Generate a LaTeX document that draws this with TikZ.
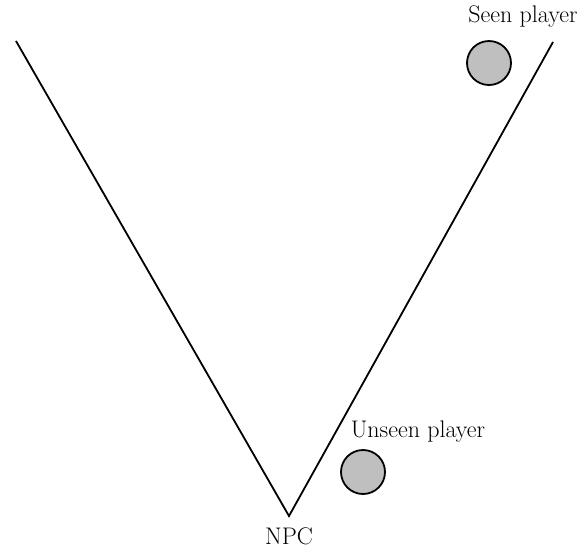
\documentclass[tikz,border=0pt]{standalone}
\usepackage{fontspec}
\usepackage{tikz}
\usetikzlibrary{positioning}

\begin{document}
\begin{tikzpicture}[x=1pt, y=-1pt]
        \tikzstyle{player} = [circle, minimum size=44pt, inner sep=0pt, draw=black, line width=1.8pt, fill=black!25]
        \tikzstyle{caption} = [font=\fontsize{24}{28}\selectfont]
        \tikzstyle{sight} = [line width=1.8pt, line join=miter]

        \useasboundingbox (0,0) rectangle (582,550);

        \coordinate (leftend) at (16,41);
        \coordinate (npc) at (289,516);
        \coordinate (rightend) at (553,42);

        \node (seen) [player] at (489,63) {};
        \node (unseen) [player] at (363,472) {};

        \node (seenlabel) [caption] at (523,17) {Seen player};
        \node (unseenlabel) [caption] at (418,432) {Unseen player};
        \node (npclabel) [caption, below=8pt of npc] {NPC};

        \draw [sight] (leftend) -- (npc) -- (rightend);
    \end{tikzpicture}
\end{document}
